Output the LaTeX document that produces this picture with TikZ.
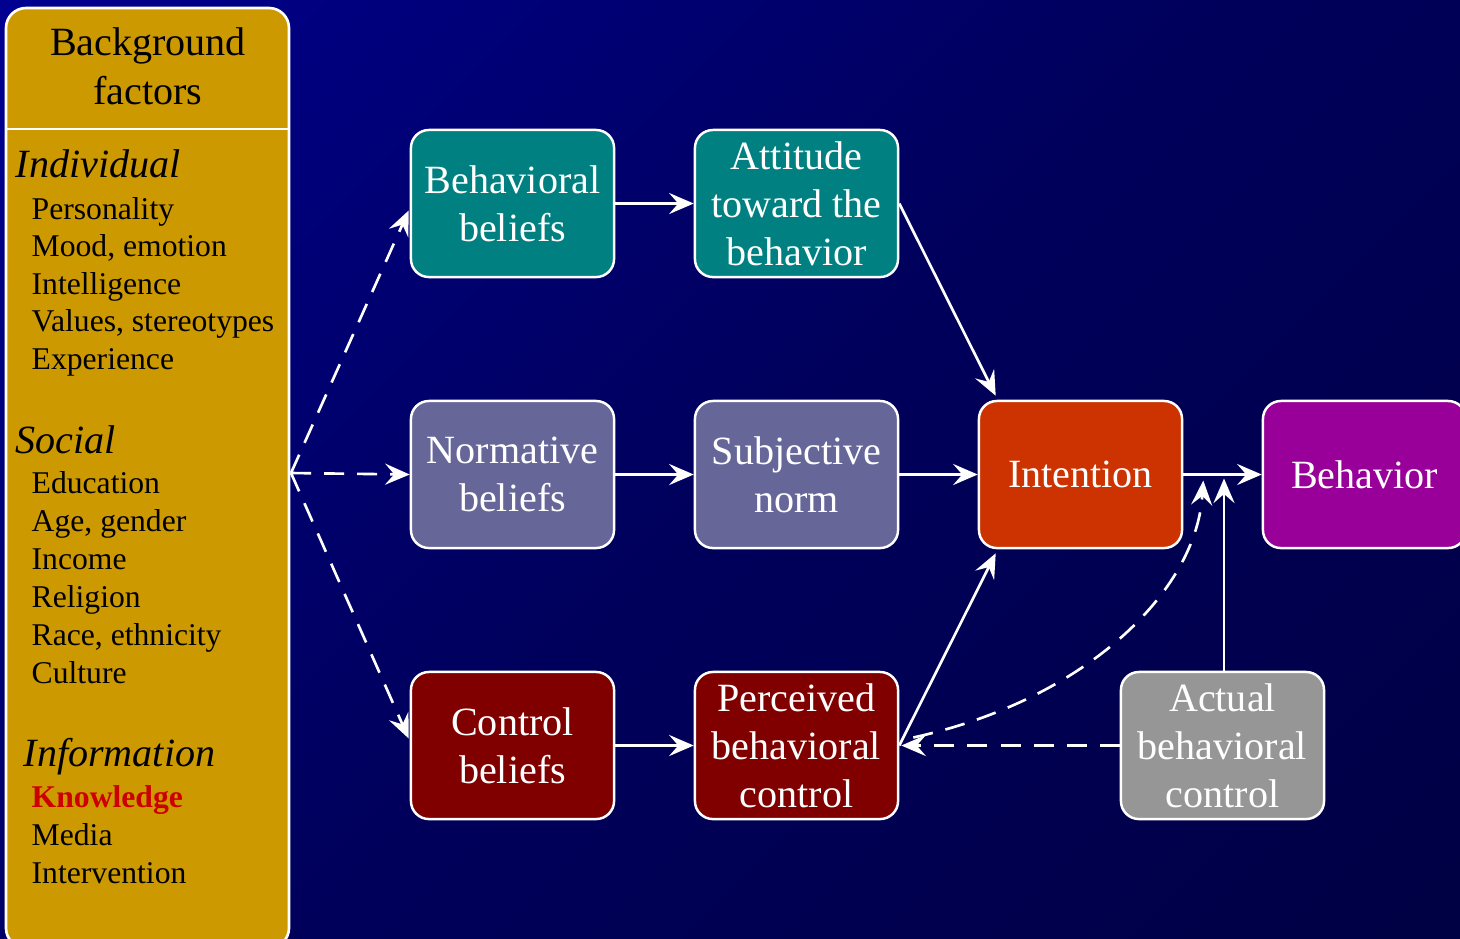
\documentclass[tikz,border=0pt]{standalone}
\usepackage{fontspec}
\setmainfont{Liberation Serif}
\usetikzlibrary{arrows.meta,calc}

\definecolor{bgA}{RGB}{0,0,172}
\definecolor{bgB}{RGB}{0,0,126}
\definecolor{bgC}{RGB}{0,0,92}
\definecolor{bgD}{RGB}{0,0,58}
\definecolor{panelgold}{RGB}{204,153,0}
\definecolor{tealbox}{RGB}{0,128,128}
\definecolor{slatebox}{RGB}{102,102,153}
\definecolor{intentbox}{RGB}{204,51,0}
\definecolor{behavbox}{RGB}{153,0,153}
\definecolor{maroonbox}{RGB}{128,0,0}
\definecolor{graybox}{RGB}{150,150,150}
\definecolor{keyred}{RGB}{204,0,0}

% diagonal backdrop: bright in the upper left, dark in the lower right
\pgfdeclareverticalshading{backdrop}{100bp}{color(0bp)=(bgD); color(50bp)=(bgC);
  color(75bp)=(bgB); color(100bp)=(bgA)}

\tikzset{
  box/.style={draw=white, line width=0.7pt, rounded corners=0.18cm,
    minimum width=2.03cm, minimum height=1.47cm, inner sep=0pt,
    align=center, text=white, font=\fontsize{11.4}{13.7}\selectfont},
  link/.style={draw=white, line width=0.75pt,
    -{Stealth[length=7pt,width=6pt,inset=2.6pt]}},
  dlink/.style={link, dash pattern=on 5.7pt off 3.7pt},
  listitem/.style={anchor=base west, inner sep=0pt, text=black,
    font=\fontsize{9}{10.8}\selectfont},
  listhead/.style={anchor=base west, inner sep=0pt, text=black,
    font=\fontsize{11.4}{13.7}\selectfont\itshape},
}

\begin{document}
\begin{tikzpicture}[x=0.01cm, y=-0.01cm]
  \useasboundingbox (0,0) rectangle (1460,938);
  \clip (0,0) rectangle (1460,938);
  \shade[shading=backdrop, shading angle=45] (0,0) rectangle (1460,938);

  % background factors panel
  \draw[fill=panelgold, draw=white, line width=0.75pt, rounded corners=0.2cm]
    (6,8) rectangle (289,948);
  \draw[white, line width=0.75pt] (6,129) -- (289,129);
  \node[anchor=center, align=center, inner sep=0pt, text=black,
    font=\fontsize{11.4}{13.9}\selectfont] (bghead) at (148,66)
    {Background\\factors};

  \node[listhead] (hind) at (15,177) {Individual};
  \node[listitem] (i1) at (31,219) {Personality};
  \node[listitem] (i2) at (31,256) {Mood, emotion};
  \node[listitem] (i3) at (31,294) {Intelligence};
  \node[listitem] (i4) at (31,331) {Values, stereotypes};
  \node[listitem] (i5) at (31,369) {Experience};

  \node[listhead] (hsoc) at (15,453) {Social};
  \node[listitem] (s1) at (31,493) {Education};
  \node[listitem] (s2) at (31,531) {Age, gender};
  \node[listitem] (s3) at (31,569) {Income};
  \node[listitem] (s4) at (31,607) {Religion};
  \node[listitem] (s5) at (31,645) {Race, ethnicity};
  \node[listitem] (s6) at (31,683) {Culture};

  \node[listhead] (hinf) at (23,766) {Information};
  \node[listitem, text=keyred, font=\fontsize{9}{10.8}\selectfont\bfseries] (f1) at (31,807) {Knowledge};
  \node[listitem] (f2) at (31,845) {Media};
  \node[listitem] (f3) at (31,883) {Intervention};

  \coordinate (src) at (291,473);

  % model boxes
  \node[box, fill=tealbox]   (bb)  at (512.5,203.5) {Behavioral\\beliefs};
  \node[box, fill=tealbox]   (att) at (796.5,203.5) {Attitude\\toward the\\behavior};
  \node[box, fill=slatebox]  (nb)  at (512.5,474.5) {Normative\\beliefs};
  \node[box, fill=slatebox]  (sn)  at (796.5,474.5) {Subjective\\norm};
  \node[box, fill=intentbox] (int) at (1080.5,474.5) {Intention};
  \node[box, fill=behavbox]  (beh) at (1364.5,474.5) {Behavior};
  \node[box, fill=maroonbox] (cb)  at (512.5,745.5) {Control\\beliefs};
  \node[box, fill=maroonbox] (pbc) at (796.5,745.5) {Perceived\\behavioral\\control};
  \node[box, fill=graybox]   (abc) at (1222.5,745.5) {Actual\\behavioral\\control};

  % background factors feed the beliefs
  \draw[dlink] (src) -- ($(bb.west)+(-1,7)$);
  \draw[dlink] (src) -- (nb.west);
  \draw[dlink] (src) -- ($(cb.west)+(-1,-7)$);

  % beliefs to constructs
  \draw[link] (bb.east) -- (att.west);
  \draw[link] (nb.east) -- (sn.west);
  \draw[link] (cb.east) -- (pbc.west);

  % constructs to intention
  \draw[link] (att.east) -- ($(int.north west)+(18,-4)$);
  \draw[link] (sn.east) -- (int.west);
  \draw[link] (pbc.east) -- ($(int.south west)+(18,4)$);

  % intention to behavior
  \draw[link] (int.east) -- (beh.west);

  % actual behavioral control
  \coordinate (abctop) at ($(abc.north -| 1224,0)$);
  \draw[link] (abctop) -- ($(abctop |- int.east)+(0,4)$);
  \draw[dlink] (abc.west) -- ($(pbc.east)+(2,0)$);
  \coordinate (curvestart) at ($(pbc.east)+(14,-8)$);
  \coordinate (curveend) at ($(int.east)+(20,6)$);
  \draw[dlink] (curvestart) .. controls (1085,700) and (1196,592) .. (curveend);
\end{tikzpicture}
\end{document}
